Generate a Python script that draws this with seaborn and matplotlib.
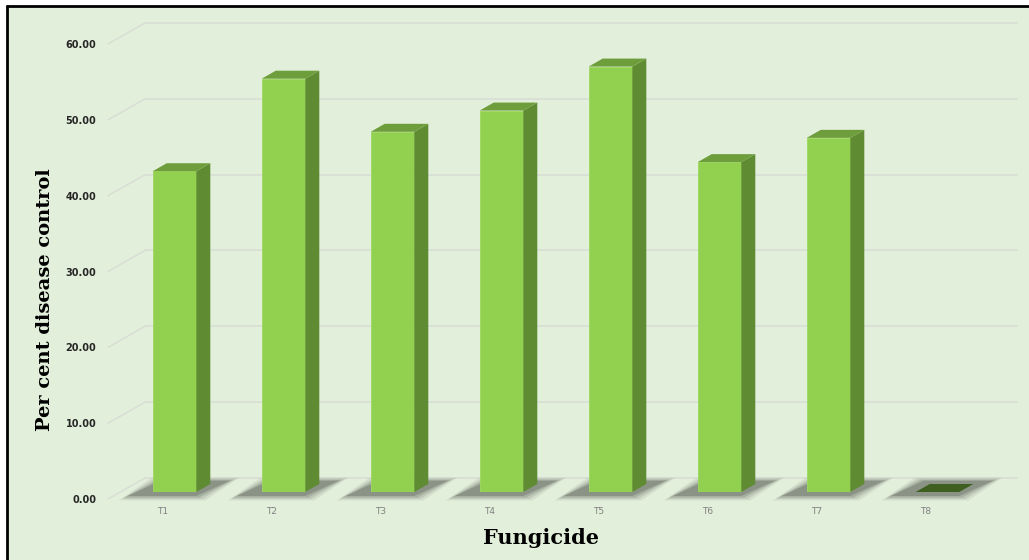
import matplotlib
matplotlib.use("Agg")
import matplotlib.pyplot as plt
from matplotlib.patches import Polygon, Rectangle
from matplotlib.lines import Line2D
from matplotlib.transforms import ScaledTranslation
import seaborn as sns
import pandas as pd
import numpy as np

# ---- data ----
categories = ["T1", "T2", "T3", "T4", "T5", "T6", "T7", "T8"]
values = [42.3, 54.5, 47.5, 50.3, 56.1, 43.5, 46.7, 0.0]
y_ticks = [0, 10, 20, 30, 40, 50, 60]
y_tick_labels = ["0.00", "10.00", "20.00", "30.00", "40.00", "50.00", "60.00"]
x_label = "Fungicide"
y_label = "Per cent disease control"

# ---- style ----
BG = "#E2EFDA"
FRONT = "#92D050"
SIDE = "#5F8B32"
TOP = "#6E9E3C"
ZERO_TOP = "#3F5F20"
GRID = "#D8DDD4"

sns.set_style("white")
W, H = 1029, 560
fig = plt.figure(figsize=(W / 100, H / 100), dpi=100)
fig.patch.set_facecolor("white")

# background panel with left/top border
fig.add_artist(Rectangle((7 / W, 0), 1, 1 - 6 / H, transform=fig.transFigure,
                         facecolor=BG, edgecolor="none", zorder=0))
fig.add_artist(Line2D([7 / W, 7 / W], [0, 1 - 6 / H], transform=fig.transFigure,
                      color="black", lw=2, zorder=1))
fig.add_artist(Line2D([7 / W, 1], [1 - 6 / H, 1 - 6 / H], transform=fig.transFigure,
                      color="black", lw=2, zorder=1))

ax = fig.add_axes([120 / W, (H - 492) / H, 872 / W, 455 / H])
ax.set_facecolor("none")
df = pd.DataFrame({"cat": categories, "val": values})
sns.barplot(data=df, x="cat", y="val", color=FRONT, saturation=1, width=0.4,
            ax=ax, zorder=5, edgecolor="#9ED85E", linewidth=0.6)
ax.set_xlim(-0.5, len(categories) - 0.5)
ax.set_ylim(0, 60)
for s in ax.spines.values():
    s.set_visible(False)

fig.canvas.draw()

def pt(xd, yd, dx=0.0, dy=0.0):
    """data point shifted by (dx, dy) screen pixels, returned in data coords"""
    px = ax.transData.transform((xd, yd))
    return ax.transData.inverted().transform((px[0] + dx, px[1] + dy))

# back wall gridlines and left wall diagonals
x0, x1 = ax.get_xlim()
BX, BY = 25, 14     # offset from bar plane to back wall
FX, FY = -12, -7    # offset from bar plane to front edge
for v in y_ticks:
    a = pt(x0, v, BX, BY)
    b = pt(x1, v, BX, BY)
    ax.add_line(Line2D([a[0], b[0]], [a[1], b[1]], color=GRID, lw=1.2,
                       zorder=1, clip_on=False))
    c = pt(x0, v, FX, FY)
    ax.add_line(Line2D([c[0], a[0]], [c[1], a[1]], color=GRID, lw=1.0,
                       zorder=1, clip_on=False))

# 3D faces and floor shadows
DX, DY = 14, 8
for p, v in zip(ax.patches, values):
    xl = p.get_x()
    xr = xl + p.get_width()
    h = p.get_height()
    # shadow (soft, layered)
    for k, alpha in zip([7, 4, 1, -2], [0.08, 0.12, 0.16, 0.22]):
        poly = [pt(xl, 0, -27 - k, -5 - k / 2), pt(xr, 0, 2 + k, -5 - k / 2),
                pt(xr, 0, 36 + k, 12 + k / 3), pt(xl, 0, 6 - k, 12 + k / 3)]
        ax.add_patch(Polygon(poly, closed=True, facecolor="#2e2e2e",
                             edgecolor="none", alpha=alpha, zorder=2,
                             clip_on=False))
    # side face
    side = [pt(xr, 0), pt(xr, h), pt(xr, h, DX, DY), pt(xr, 0, DX, DY)]
    # top face
    top = [pt(xl, h), pt(xr, h), pt(xr, h, DX, DY), pt(xl, h, DX, DY)]
    if h > 0:
        ax.add_patch(Polygon(side, closed=True, facecolor=SIDE,
                             edgecolor="none", zorder=6, clip_on=False))
        ax.add_patch(Polygon(top, closed=True, facecolor=TOP,
                             edgecolor="none", zorder=6, clip_on=False))
    else:
        ax.add_patch(Polygon(top, closed=True, facecolor=ZERO_TOP,
                             edgecolor="none", zorder=6, clip_on=False))

# ticks
ax.set_yticks(y_ticks)
ax.set_yticklabels(y_tick_labels)
ax.tick_params(axis="y", length=0, pad=17, labelsize=7, labelcolor="#262626")
for lab in ax.get_yticklabels():
    lab.set_fontweight("bold")
    lab.set_transform(lab.get_transform() + ScaledTranslation(0, -7 / 100, fig.dpi_scale_trans))
ax.tick_params(axis="x", length=0, pad=11, labelsize=6.5, labelcolor="#808080")
for lab in ax.get_xticklabels():
    lab.set_transform(lab.get_transform() + ScaledTranslation(-12 / 100, 0, fig.dpi_scale_trans))

ax.set_xlabel("")
ax.set_ylabel("")
fig.text(541 / W, 1 - 538 / H, x_label, ha="center", va="center",
         fontsize=15, fontweight="bold", family="DejaVu Serif", color="#000000")
fig.text(45 / W, 1 - 300 / H, y_label, ha="center", va="center", rotation=90,
         fontsize=14, fontweight="bold", family="DejaVu Serif", color="#000000")

fig.savefig("out.png", dpi=100)
